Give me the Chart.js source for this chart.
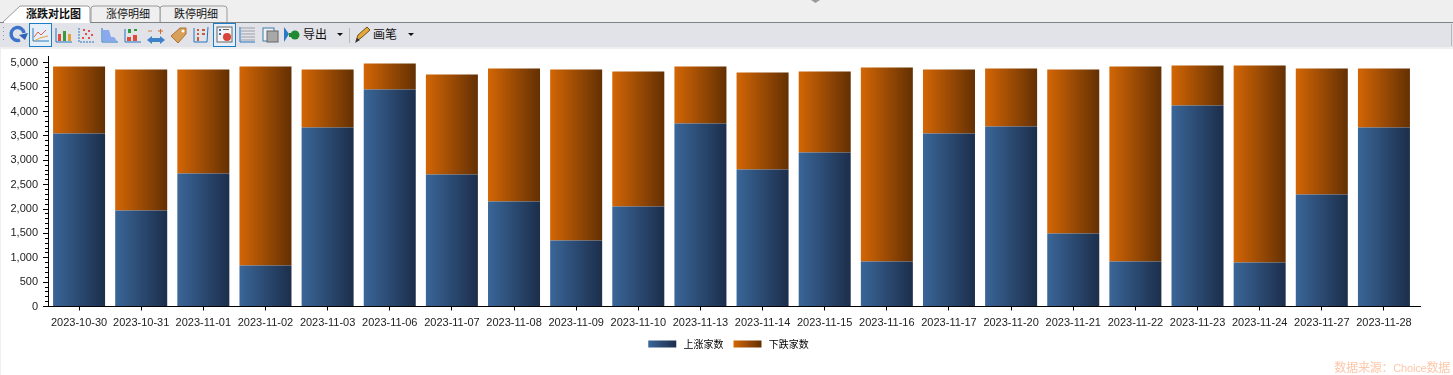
<!DOCTYPE html>
<html>
<head>
<meta charset="utf-8">
<title>涨跌对比图</title>
<script src="https://cdn.jsdelivr.net/npm/chart.js@4/dist/chart.umd.min.js"></script>
<style>
  html, body { margin: 0; padding: 0; background: #fff; overflow: hidden; }
  #page { position: relative; width: 1453px; height: 375px; overflow: hidden; }
  #chrome { position: absolute; left: 0; top: 0; }
  #edge { position: absolute; left: 0; top: 49px; width: 1px; height: 326px; background: #efefef; }
  #chart { position: absolute; left: 0; top: 49px; }
  #source { position: absolute; right: 3px; top: 360px; font: 12px "Liberation Sans", "Noto Sans CJK SC", sans-serif; line-height: 16px; letter-spacing: -0.2px; color: #fdc7a8; }
  #source span { font-size: 11px; }
  svg text { font-family: "Noto Sans CJK SC", sans-serif; font-size: 11px; fill: #111; }
</style>
</head>
<body>
<div id="page">
  <svg id="chrome" width="1453" height="49" xmlns="http://www.w3.org/2000/svg">
    <rect width="1453" height="49" fill="#efefef"/>
    <path d="M811 0h9l-4.500 3z" fill="#9a9a9a"/>
    <!-- tabs -->
    <path d="M160 22V9q0-3 3-3h61q3 0 3 3v13" fill="#efefef" stroke="#9a9a9a"/>
    <path d="M91 22V9q0-3 3-3h63q3 0 3 3v13" fill="#efefef" stroke="#9a9a9a"/>
    <path d="M3 22L20 6h67q3 0 3 3v13" fill="#fff" stroke="#9a9a9a"/>
    <rect y="22" width="1453" height="1" fill="#808484"/>
    <rect x="4" y="22" width="86" height="1" fill="#fff"/>
    <text x="26" y="18" font-weight="bold">涨跌对比图</text>
    <text x="106" y="18">涨停明细</text>
    <text x="174" y="18">跌停明细</text>
    <!-- toolbar -->
    <rect y="23" width="1453" height="24" fill="#e2e3e8"/>
    <rect x="3" y="27" width="1" height="1" fill="#999"/><rect x="3" y="31" width="1" height="1" fill="#999"/><rect x="3" y="35" width="1" height="1" fill="#999"/><rect x="3" y="39" width="1" height="1" fill="#999"/>
    <!-- refresh -->
    <path d="M20 40a6.500 6.500 0 1 1 4-7" fill="none" stroke="#3b74c9" stroke-width="3.500"/><path d="M19 35l6 5 3-7z" fill="#2f62b3"/>
    <!-- line icon -->
    <rect x="29.500" y="23.500" width="22" height="23" fill="#e6eef8" stroke="#1c7cc8"/>
    <path d="M33 28v13h16" fill="none" stroke="#2a7cc4"/><path d="M34 37l4-5 3 3 5-5" fill="none" stroke="#e35a4f"/><path d="M34 41l6-3 8-2" fill="none" stroke="#e3a13c"/>
    <!-- bars -->
    <path d="M56 28v14h16" fill="none" stroke="#1f77c4"/><rect x="58" y="34" width="3" height="7" fill="#e04a3c"/><rect x="63" y="31" width="3" height="10" fill="#3c9a3c"/><rect x="68" y="34" width="3" height="7" fill="#e3a13c"/>
    <!-- scatter -->
    <path d="M79 28v14h16" fill="none" stroke="#1f77c4" stroke-dasharray="2 1"/><g fill="#e0504a"><rect x="83" y="29" width="2" height="2"/><rect x="88" y="30" width="2" height="2"/><rect x="85" y="33" width="2" height="2"/><rect x="91" y="34" width="2" height="2"/><rect x="82" y="37" width="2" height="2"/><rect x="88" y="37" width="2" height="2"/></g>
    <!-- area -->
    <path d="M102 28v14h16" fill="none" stroke="#1f77c4"/><path d="M103 41V30h6l2 7h3l3 4z" fill="#8aa8ee"/>
    <!-- up down bars -->
    <path d="M125 29v13h16" fill="none" stroke="#1f77c4"/><rect x="128" y="29" width="3" height="4" fill="#2f9a3c"/><rect x="134" y="29" width="3" height="2" fill="#2f9a3c"/><rect x="127" y="37" width="4" height="4" fill="#e04a3c"/><rect x="133" y="35" width="4" height="6" fill="#e04a3c"/>
    <!-- arrows -->
    <path d="M150 40h12" stroke="#3f82c9" stroke-width="4"/><path d="M152 36l-5 4 5 4zM160 36l5 4-5 4z" fill="#3f82c9"/><path d="M148 31h4" stroke="#c84" /><path d="M158 31h5M160.500 29v5" stroke="#d06a2a"/>
    <!-- tag -->
    <path d="M171 36l9-8h6v6l-8 9z" fill="#d9a05a" stroke="#a87434"/><circle cx="183" cy="31" r="1.500" fill="#fff"/>
    <!-- ruler -->
    <path d="M194 28v14h13l1-15" fill="none" stroke="#1f77c4"/><g fill="#c95a3a"><rect x="197" y="29" width="2" height="2"/><rect x="202" y="29" width="3" height="2"/><rect x="197" y="33" width="2" height="2"/><rect x="202" y="33" width="3" height="2"/><rect x="197" y="37" width="2" height="4"/></g>
    <!-- legend icon -->
    <rect x="213.500" y="23.500" width="22" height="23" fill="#e6eef8" stroke="#1c7cc8"/>
    <rect x="217" y="27" width="15" height="15" fill="#f4f4f4" stroke="#666"/><circle cx="227" cy="37" r="4" fill="#d8443a"/><rect x="219" y="29" width="2" height="2" fill="#3a6fb0"/><rect x="219" y="33" width="2" height="2" fill="#3a6fb0"/><rect x="223" y="29" width="6" height="1" fill="#666"/>
    <!-- lines icon -->
    <g stroke="#9aa1a8"><path d="M241 28h14M241 31h14M241 34h14M241 37h14M241 40h14"/></g><path d="M240 27v15h15" fill="none" stroke="#1f77c4"/>
    <!-- sheet icon -->
    <rect x="263" y="28" width="11" height="13" fill="#eef2f6" stroke="#3d7fa8"/><rect x="267" y="31" width="11" height="11" fill="#a8a8a8" stroke="#666"/>
    <!-- export -->
    <path d="M284 27l5 7-5 8z" fill="#2b78c8"/><circle cx="295" cy="35" r="4.500" fill="#1f8a2f"/><rect x="289" y="33" width="3" height="4" fill="#1f8a2f"/>
    <text x="303" y="39" font-size="12" style="font-size:12px">导出</text>
    <path d="M337 33h6l-3 3z" fill="#111"/>
    <rect x="349" y="28" width="1" height="15" fill="#b8b8b8"/>
    <!-- pencil -->
    <path d="M356 41l2-6 9-8 3 3-9 8z" fill="#e4a93a" stroke="#6e5020"/><path d="M355 43l2-5 3 2z" fill="#333"/>
    <text x="373" y="39" style="font-size:12px">画笔</text>
    <path d="M408 33h6l-3 3z" fill="#111"/>
    <rect x="1451" y="24" width="1" height="22" fill="#b8b8b8"/>
  </svg>
  <div id="edge"></div>
  <canvas id="chart" width="1453" height="326"></canvas>
  <div id="source">数据来源：<span>Choice</span>数据</div>
</div>
<script>
const dates = ['2023-10-30','2023-10-31','2023-11-01','2023-11-02','2023-11-03','2023-11-06','2023-11-07','2023-11-08','2023-11-09','2023-11-10','2023-11-13','2023-11-14','2023-11-15','2023-11-16','2023-11-17','2023-11-20','2023-11-21','2023-11-22','2023-11-23','2023-11-24','2023-11-27','2023-11-28']
const upCounts = [3550,1970,2729,841,3673,4452,2708,2154,1354,2052,3755,2811,3160,923,3550,3693,1498,923,4124,903,2298,3673]
const downCounts = [1374,2893,2134,4083,1190,534,2052,2729,3509,2770,1169,1990,1662,3981,1313,1190,3365,4001,821,4042,2585,1210]
const yTicks = [0,500,1000,1500,2000,2500,3000,3500,4000,4500,5000]
const minorTicks = [100,200,300,400,600,700,800,900,1100,1200,1300,1400,1600,1700,1800,1900,2100,2200,2300,2400,2600,2700,2800,2900,3100,3200,3300,3400,3600,3700,3800,3900,4100,4200,4300,4400,4600,4700,4800,4900]

const BLUE = ['#3a6698', '#1c2e4b']
const ORANGE = ['#d36605', '#633003']
const BAR_PCT = 0.837
const LEGEND_SHIFT = 3
const FONT = '"Liberation Sans", sans-serif'

function sideGradient(ctx, left, right, colors) {
  const g = ctx.createLinearGradient(left, 0, right, 0)
  g.addColorStop(0, colors[0])
  g.addColorStop(1, colors[1])
  return g
}

function barFill(colors) {
  return (c) => {
    const x = c.chart.scales.x
    if (!c.chart.chartArea || !x) return colors[0]
    const center = x.getPixelForValue(c.dataIndex)
    const half = x.width / dates.length * BAR_PCT / 2
    return sideGradient(c.chart.ctx, center - half, center + half, colors)
  }
}

// legend swatches need the same left-to-right shading, at their final position
const legendShade = {
  id: 'legendShade',
  beforeDraw(chart) {
    const colors = [BLUE, ORANGE]
    const legend = chart.legend
    legend.left = chart.chartArea.left - LEGEND_SHIFT
    legend.right = chart.chartArea.right - LEGEND_SHIFT
    legend.legendItems.forEach((item, i) => {
      const left = legend.legendHitBoxes[i].left - LEGEND_SHIFT
      item.fillStyle = sideGradient(chart.ctx, left, left + 28, colors[i])
    })
  },
}

// short ticks between the labelled ones, and the x axis running a little past the last bar
const axisExtras = {
  id: 'axisExtras',
  afterDraw(chart) {
    const { ctx, scales: { x, y } } = chart
    ctx.save()
    ctx.strokeStyle = '#000'
    ctx.lineWidth = 1
    ctx.beginPath()
    minorTicks.forEach((v) => {
      const py = Math.floor(y.getPixelForValue(v)) + 0.5
      ctx.moveTo(x.left - 3, py)
      ctx.lineTo(x.left, py)
    })
    const base = Math.floor(y.bottom) + 0.5
    ctx.moveTo(x.right, base)
    ctx.lineTo(x.right + 6, base)
    ctx.stroke()
    ctx.restore()
  },
}

new Chart(document.getElementById('chart'), {
  type: 'bar',
  data: {
    labels: dates,
    datasets: [
      { label: '上涨家数', data: upCounts, backgroundColor: barFill(BLUE) },
      { label: '下跌家数', data: downCounts, backgroundColor: barFill(ORANGE) },
    ],
  },
  plugins: [legendShade, axisExtras],
  options: {
    responsive: false,
    animation: false,
    barPercentage: BAR_PCT,
    categoryPercentage: 1,
    layout: { padding: { left: 0, right: 38, top: 7.5, bottom: 16 } },
    plugins: {
      tooltip: { enabled: false },
      legend: {
        position: 'bottom',
        fullSize: false,
        labels: {
          boxWidth: 28,
          boxHeight: 7,
          padding: 10,
          color: '#222',
          font: { family: '"Noto Sans CJK SC", sans-serif', size: 10 },
          generateLabels: (chart) => chart.data.datasets.map((d, i) => ({
            text: ' ' + d.label,
            fillStyle: BLUE[0],
            strokeStyle: 'transparent',
            lineWidth: 0,
            datasetIndex: i,
          })),
        },
      },
    },
    scales: {
      x: {
        stacked: true,
        afterFit: (s) => { s.height = 22.5 },
        border: { color: '#000', width: 1 },
        grid: { offset: false, drawOnChartArea: false, tickLength: 4, tickColor: '#000' },
        ticks: { autoSkip: false, maxRotation: 0, padding: 6, color: '#222', font: { family: FONT, size: 11 } },
      },
      y: {
        stacked: true,
        min: 0,
        max: 5129,
        afterBuildTicks: (s) => { s.ticks = yTicks.map((value) => ({ value })) },
        afterFit: (s) => { s.width = 48; s.paddingTop = 0; s.paddingBottom = 0 },
        border: { color: '#000', width: 1 },
        grid: { drawOnChartArea: false, tickLength: 5, tickColor: '#000' },
        ticks: {
          autoSkip: false,
          padding: 5,
          color: '#222',
          font: { family: FONT, size: 11 },
          callback: (v) => v.toLocaleString('en-US'),
        },
      },
    },
  },
})
</script>
</body>
</html>
